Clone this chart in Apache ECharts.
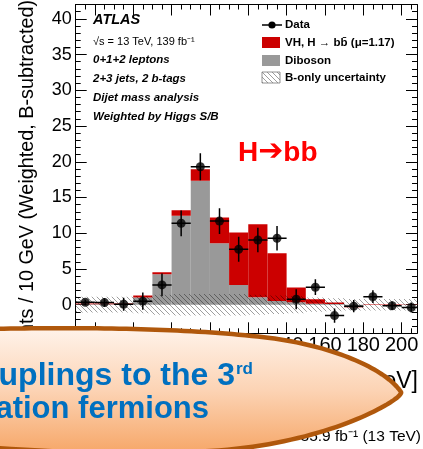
<!DOCTYPE html>
<html><head><meta charset="utf-8">
<script src="https://cdn.jsdelivr.net/npm/echarts@6/dist/echarts.min.js"></script>
<style>html,body{margin:0;padding:0;background:#fff}#c{width:423px;height:449px}</style>
</head><body><div id="c"></div>
<script>
// ---- data ----
const binLow = [30,40,50,60,70,80,90,100,110,120,130,140,150,160,170,180,190,200];
const binWidth = 10;
const diboson = [0.05,0.05,0.05,1.0,4.26,12.45,17.35,8.6,2.77,1.05,0.53,0.35,0.15,0.1,-0.35,0.0,0.0,-0.05];
const vhSignal = [0.12,0.12,0.12,0.3,0.28,0.75,1.6,3.6,7.33,10.2,6.67,2.05,0.62,0.2,0.1,0.07,0.05,0.05];
const dataValues = [0.35,0.3,0.07,0.5,2.77,11.39,19.3,11.7,7.75,9.05,9.3,0.77,2.45,-1.52,-0.2,1.13,-0.15,-0.4];
const dataErrors = [0.35,0.6,0.9,1.2,1.6,1.8,1.9,1.8,1.75,1.7,1.7,1.4,1.1,1.0,0.85,0.9,0.6,0.7];
const bkgUncertainty = [1.1,1.1,1.1,1.2,1.4,1.5,1.5,1.5,1.5,1.4,1.3,1.2,1.0,0.9,0.8,0.8,0.8,0.8];
const xTickLabels = [40,60,80,100,120,140,160,180,200];
const yTickLabels = [0,5,10,15,20,25,30,35,40];
const xRange = [30, 208];
const yRange = [-4, 42];

// ---- helpers ----
const FONT = '"Liberation Sans", Arial, Helvetica, sans-serif';
const xMinor = []; for (let v = xRange[0]; v <= xRange[1]; v += 5) xMinor.push(v);
const yMinor = []; for (let v = yRange[0]; v <= yRange[1]; v += 1) yMinor.push(v);

function makeHatch(color, s) {
  const c = document.createElement('canvas'); c.width = s; c.height = s;
  const g = c.getContext('2d'); g.strokeStyle = color; g.lineWidth = 1;
  g.beginPath();
  g.moveTo(0,0); g.lineTo(s,s);
  g.moveTo(-1,s-1); g.lineTo(1,s+1);
  g.moveTo(s-1,-1); g.lineTo(s+1,1);
  g.stroke();
  return c;
}
const hatch = {image: makeHatch('rgba(0,0,0,0.38)', 5), repeat: 'repeat'};

const grayData = binLow.map((lo,i) => [lo, lo+binWidth, 0, diboson[i]]);
const redData = binLow.map((lo,i) => [lo, lo+binWidth, diboson[i], diboson[i]+vhSignal[i]]);
const bandData = binLow.map((lo,i) => [lo, lo+binWidth, -bkgUncertainty[i], bkgUncertainty[i]]);
const errData = binLow.map((lo,i) => [lo, lo+binWidth, dataValues[i], dataErrors[i]]);
const ptData = binLow.map((lo,i) => [lo+binWidth/2, dataValues[i]]);

function rectRenderer(fill) {
  return function(params, api) {
    const a = api.coord([api.value(0), api.value(2)]);
    const b = api.coord([api.value(1), api.value(3)]);
    return {type:'rect', shape:{x:a[0], y:Math.min(a[1],b[1]), width:b[0]-a[0], height:Math.abs(a[1]-b[1])},
      style:{fill: fill}};
  };
}
function errRenderer(params, api) {
  const lo = api.value(0), hi = api.value(1), y = api.value(2), e = api.value(3);
  const xc = (lo+hi)/2;
  const l = api.coord([lo, y]), r = api.coord([hi, y]);
  const t = api.coord([xc, y+e]), bt = api.coord([xc, y-e]);
  return {type:'group', children:[
    {type:'line', shape:{x1:l[0], y1:l[1], x2:r[0], y2:r[1]}, style:{stroke:'#000', lineWidth:1.5}},
    {type:'line', shape:{x1:t[0], y1:t[1], x2:bt[0], y2:bt[1]}, style:{stroke:'#000', lineWidth:1.5}}
  ]};
}

function xAxisDef(pos, major) {
  return {type:'value', min:xRange[0], max:xRange[1], position:pos,
    axisLine:{show:major, onZero:false, lineStyle:{color:'#000', width:1}},
    axisTick:{show:true, inside:true, length: major?11:5, customValues: major?xTickLabels:xMinor, lineStyle:{color:'#000', width:1}},
    axisLabel:{show: major && pos==='bottom', customValues:xTickLabels, fontSize:20, color:'#000', margin:2, fontFamily:FONT},
    splitLine:{show:false}};
}
function yAxisDef(pos, major) {
  return {type:'value', min:yRange[0], max:yRange[1], position:pos,
    axisLine:{show:major, onZero:false, lineStyle:{color:'#000', width:1}},
    axisTick:{show:true, inside:true, length: major?11:5, customValues: major?yTickLabels:yMinor, lineStyle:{color:'#000', width:1}},
    axisLabel:{show: major && pos==='left', customValues:yTickLabels, fontSize:18, color:'#000', margin:4, fontFamily:FONT},
    splitLine:{show:false}};
}

// slide overlay oval outline (egg-like, pointier on the right), sampled from cubic Bezier segments
const ovalSegments = [
  [[-210,392],[-210,350],[-60,330],[-10,329]],
  [[-10,329],[80,327],[190,328],[270,338]],
  [[270,338],[330,345.5],[385,368],[401,392]],
  [[401,392],[405,398],[330,444],[210,451]],
  [[210,451],[60,460],[-210,440],[-210,392]]
];
const ovalPoints = [];
ovalSegments.forEach(function(s) {
  for (let k = 0; k < 40; k++) {
    const t = k/40, u = 1-t;
    const a = u*u*u, b = 3*u*u*t, c = 3*u*t*t, d = t*t*t;
    ovalPoints.push([a*s[0][0]+b*s[1][0]+c*s[2][0]+d*s[3][0], a*s[0][1]+b*s[1][1]+c*s[2][1]+d*s[3][1]]);
  }
});

const chart = echarts.init(document.getElementById('c'), null, {renderer:'canvas'});
chart.setOption({
  animation:false,
  backgroundColor:'#fff',
  grid:{left:75.7, right:6, top:4.5, bottom:115.7, containLabel:false, outerBoundsMode:'none'},
  xAxis:[xAxisDef('bottom',true), xAxisDef('bottom',false), xAxisDef('top',true), xAxisDef('top',false)],
  yAxis:[yAxisDef('left',true), yAxisDef('left',false), yAxisDef('right',true), yAxisDef('right',false)],
  series:[
    {type:'custom', name:'Diboson', clip:true, renderItem:rectRenderer('#999999'), data:grayData, encode:{x:[0,1], y:[2,3]}, z:2},
    {type:'custom', name:'VH', clip:true, renderItem:rectRenderer('#cc0000'), data:redData, encode:{x:[0,1], y:[2,3]}, z:3},
    {type:'custom', name:'B-only uncertainty', clip:true, renderItem:rectRenderer(hatch), data:bandData, encode:{x:[0,1], y:[2,3]}, z:4},
    {type:'custom', name:'Data err', clip:true, renderItem:errRenderer, data:errData, encode:{x:[0,1], y:2}, z:5},
    {type:'scatter', name:'Data', data:ptData, symbol:'circle', symbolSize:9, itemStyle:{color:'#000'}, z:6, clip:true}
  ],
  graphic:[
    // ATLAS labels
    {type:'text', x:93, y:20, z:20, style:{text:'ATLAS', font:'italic bold 14.5px '+FONT, fill:'#000', verticalAlign:'middle'}},
    {type:'text', x:93, y:42, z:20, style:{text:'\u221As = 13 TeV, 139 fb\u207B\u00B9', font:'11px '+FONT, fill:'#000', verticalAlign:'middle'}},
    {type:'text', x:93, y:60, z:20, style:{text:'0+1+2 leptons', font:'italic bold 11.5px '+FONT, fill:'#000', verticalAlign:'middle'}},
    {type:'text', x:93, y:79, z:20, style:{text:'2+3 jets, 2 b-tags', font:'italic bold 11.5px '+FONT, fill:'#000', verticalAlign:'middle'}},
    {type:'text', x:93, y:98, z:20, style:{text:'Dijet mass analysis', font:'italic bold 11.5px '+FONT, fill:'#000', verticalAlign:'middle'}},
    {type:'text', x:93, y:117, z:20, style:{text:'Weighted by Higgs S/B', font:'italic bold 11.5px '+FONT, fill:'#000', verticalAlign:'middle'}},
    // legend
    {type:'line', z:20, shape:{x1:262, y1:25, x2:282, y2:25}, style:{stroke:'#000', lineWidth:1.5}},
    {type:'circle', z:20, shape:{cx:272, cy:25, r:3.6}, style:{fill:'#000'}},
    {type:'rect', z:20, shape:{x:262, y:37, width:18, height:11}, style:{fill:'#cc0000'}},
    {type:'rect', z:20, shape:{x:262, y:55, width:18, height:11}, style:{fill:'#999999'}},
    {type:'rect', z:20, shape:{x:262, y:72, width:18, height:11}, style:{fill:hatch, stroke:'#777', lineWidth:0.8}},
    {type:'text', x:285, y:25, z:20, style:{text:'Data', font:'bold 11.5px '+FONT, fill:'#000', verticalAlign:'middle'}},
    {type:'text', x:285, y:43, z:20, style:{text:'VH, H \u2192 bb\u0304 (\u03BC=1.17)', font:'bold 11.5px '+FONT, fill:'#000', verticalAlign:'middle'}},
    {type:'text', x:285, y:61, z:20, style:{text:'Diboson', font:'bold 11.5px '+FONT, fill:'#000', verticalAlign:'middle'}},
    {type:'text', x:285, y:78, z:20, style:{text:'B-only uncertainty', font:'bold 11.5px '+FONT, fill:'#000', verticalAlign:'middle'}},
    // H->bb annotation
    {type:'text', x:238, y:153, z:20, style:{text:'H{a|\u2794}bb', font:'bold 28px '+FONT, fill:'#ff0000', verticalAlign:'middle',
      rich:{a:{fontFamily:'"DejaVu Sans"', fontWeight:'bold', fontSize:30, fill:'#ff0000', color:'#ff0000', padding:[0,0,1,0]}}}},
    // y axis title
    {type:'text', x:28, y:0, rotation:Math.PI/2, z:20, style:{text:'Events / 10 GeV (Weighted, B-subtracted)', font:'19.8px '+FONT, fill:'#000', align:'right', verticalAlign:'middle'}},
    // x axis title
    {type:'text', x:418, y:382, z:20, style:{text:'m\u2009bb [GeV]', font:'23px '+FONT, fill:'#000', align:'right', verticalAlign:'middle'}},
    // other plot label
    {type:'text', x:421, y:437, z:20, style:{text:'35.9 fb\u207B\u00B9 (13 TeV)', font:'15.5px '+FONT, fill:'#000', align:'right', verticalAlign:'middle'}},
    // slide overlay oval
    {type:'polygon', z:100, shape:{points: ovalPoints},
      style:{fill:{type:'linear', x:0, y:0, x2:0, y2:1, colorStops:[{offset:0,color:'#fff4ec'},{offset:0.5,color:'#fcd3b4'},{offset:1,color:'#f6a565'}]},
        stroke:'#b0580c', lineWidth:4.5, lineJoin:'round'}},
    {type:'text', x:235, y:376, z:101, style:{text:'couplings to the 3', font:'bold 32px '+FONT, fill:'#0070c0', align:'right', verticalAlign:'middle'}},
    {type:'text', x:236, y:369, z:101, style:{text:'rd', font:'bold 17px '+FONT, fill:'#0070c0', align:'left', verticalAlign:'middle'}},
    {type:'text', x:209, y:409, z:101, style:{text:'generation fermions', font:'bold 31px '+FONT, fill:'#0070c0', align:'right', verticalAlign:'middle'}}
  ]
});
</script>
</body></html>
